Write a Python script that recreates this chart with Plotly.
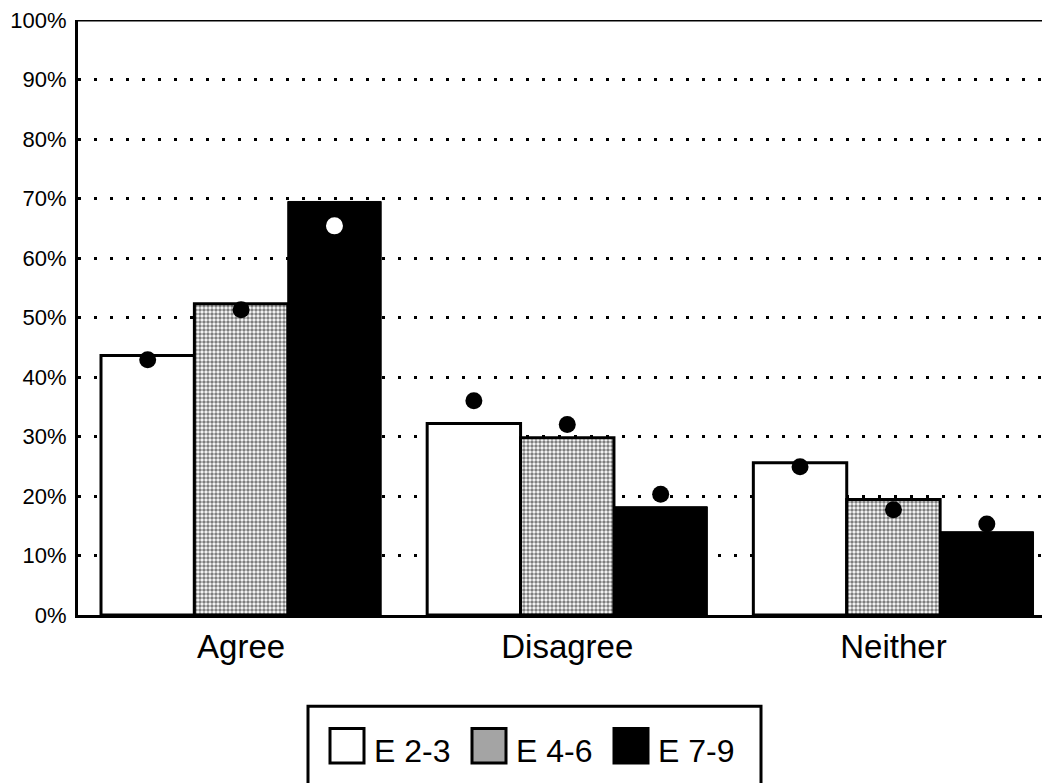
import plotly.graph_objects as go

categories = ["Agree", "Disagree", "Neither"]
series_names = ["E 2-3", "E 4-6", "E 7-9"]
bar_e23 = [43.6, 32.2, 25.6]
bar_e46 = [52.3, 29.8, 19.4]
bar_e79 = [69.5, 18.2, 14.0]
dot_e23 = [42.9, 36.0, 24.9]
dot_e46 = [51.3, 32.0, 17.7]
dot_e79 = [65.4, 20.3, 15.3]
y_ticks = [0, 10, 20, 30, 40, 50, 60, 70, 80, 90, 100]
y_tick_labels = [f"{v}%" for v in y_ticks]

bars = [bar_e23, bar_e46, bar_e79]
dots = [dot_e23, dot_e46, dot_e79]

FONT = "Liberation Sans, Arial, Helvetica, sans-serif"
bar_styles = [
    dict(color="white", line=dict(color="black", width=3)),
    dict(color="white", line=dict(color="black", width=3),
         pattern=dict(shape=".", fgcolor="black", bgcolor="white", size=4, solidity=0.6)),
    dict(color="black", line=dict(color="black", width=1)),
]
dot_colors = [["black"] * 3, ["black"] * 3, ["white", "black", "black"]]
legend_fill = ["white", "#a4a4a4", "black"]

fig = go.Figure()
for i, name in enumerate(series_names):
    fig.add_trace(go.Bar(x=categories, y=bars[i], name=name, offsetgroup=str(i),
                         marker=bar_styles[i], showlegend=False, hoverinfo="skip"))
for i, name in enumerate(series_names):
    fig.add_trace(go.Scatter(x=categories, y=dots[i], mode="markers", offsetgroup=str(i),
                             marker=dict(size=17, color=dot_colors[i], line=dict(width=0)),
                             showlegend=False, hoverinfo="skip", cliponaxis=False))

# page body has an 8px default margin; figure is sized to compensate
bargap = 0.141
fig.update_layout(
    width=1042, height=775,
    margin=dict(l=70, r=0, t=12, b=168),
    paper_bgcolor="white", plot_bgcolor="white",
    barmode="group", bargap=bargap, bargroupgap=0,
    scattermode="group", scattergap=bargap,
    font=dict(family=FONT, color="black"),
    showlegend=False,
)
fig.update_xaxes(range=[-0.5, 2.48], showline=True, linecolor="black", linewidth=3,
                 showgrid=False, ticks="", tickfont=dict(size=33, family=FONT))
fig.update_yaxes(range=[0, 100], tickvals=y_ticks, ticktext=y_tick_labels,
                 showline=True, linecolor="black", linewidth=3,
                 showgrid=True, gridcolor="black", gridwidth=3, griddash="3px,13px",
                 zeroline=False, ticks="", ticklabelstandoff=4,
                 ticklabeloverflow="allow",
                 tickfont=dict(size=22, family=FONT))

# top border at 100%
fig.add_shape(type="line", xref="paper", yref="y", x0=0, x1=1, y0=100, y1=100,
              line=dict(color="black", width=3))

# custom legend box (page pixel -> paper coords)
def px_x(p):
    return (p - 78) / 972.0

def px_y(p):
    return (607 - p) / 587.0

fig.add_shape(type="rect", xref="paper", yref="paper",
              x0=px_x(308), x1=px_x(761), y0=px_y(781), y1=px_y(697),
              line=dict(color="black", width=3), fillcolor="rgba(0,0,0,0)")
for i, name in enumerate(series_names):
    left = 330 + 142 * i
    fig.add_shape(type="rect", xref="paper", yref="paper",
                  x0=px_x(left), x1=px_x(left + 34), y0=px_y(753), y1=px_y(719),
                  line=dict(color="black", width=3), fillcolor=legend_fill[i])
    fig.add_annotation(xref="paper", yref="paper", x=px_x(left + 42), y=px_y(741),
                       text=name, showarrow=False, xanchor="left", yanchor="middle",
                       font=dict(size=32, family=FONT, color="black"))

fig.write_html("out.html")
